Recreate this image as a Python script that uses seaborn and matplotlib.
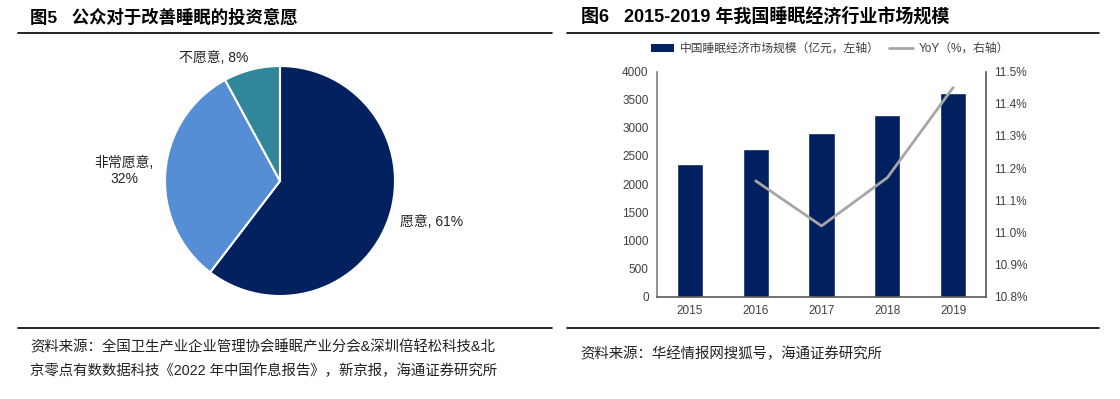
import matplotlib
matplotlib.use("Agg")
import matplotlib.pyplot as plt
from matplotlib.lines import Line2D
from matplotlib.patches import Patch
import seaborn as sns
import pandas as pd

# pie: investment willingness
pie_names = ["愿意", "非常愿意", "不愿意"]
pie_values = [61, 32, 8]
pie_colors = ["#03215E", "#568ED6", "#31869B"]

# bars + line: sleep economy market size
years = ["2015", "2016", "2017", "2018", "2019"]
market_size = [2358, 2620, 2915, 3235, 3610]
yoy_years = ["2016", "2017", "2018", "2019"]
yoy_values = [11.16, 11.02, 11.17, 11.45]
left_ticks = [0, 500, 1000, 1500, 2000, 2500, 3000, 3500, 4000]
right_ticks = [10.8, 10.9, 11.0, 11.1, 11.2, 11.3, 11.4, 11.5]

sns.set_style("white")
plt.rcParams["font.family"] = ["Liberation Sans", "Noto Sans CJK SC", "DejaVu Sans"]

W, H = 1120, 399
fig = plt.figure(figsize=(W / 100, H / 100), dpi=100)


def box(x0, y0, x1, y1):
    # pixel box (top-left origin) -> figure fraction
    return [x0 / W, 1 - y1 / H, (x1 - x0) / W, (y1 - y0) / H]


def fy(y):
    return 1 - y / H


# titles and rules
fig.text(30 / W, fy(17), "图5   公众对于改善睡眠的投资意愿", fontsize=12.5, fontweight="bold",
         va="center", ha="left", color="black")
fig.text(581 / W, fy(16), "图6   2015-2019 年我国睡眠经济行业市场规模", fontsize=13,
         fontweight="bold", va="center", ha="left", color="black")
for x0, x1 in [(18, 552), (567, 1099)]:
    for y in (33, 328):
        fig.add_artist(Line2D([x0 / W, x1 / W], [fy(y), fy(y)], color="black", lw=1.2))

fig.text(30 / W, fy(347), "资料来源：全国卫生产业企业管理协会睡眠产业分会&深圳倍轻松科技&北",
         fontsize=10.4, va="center", ha="left", color="#222222")
fig.text(30 / W, fy(371), "京零点有数数据科技《2022 年中国作息报告》，新京报，海通证券研究所",
         fontsize=10.4, va="center", ha="left", color="#222222")
fig.text(580 / W, fy(354), "资料来源：华经情报网搜狐号，海通证券研究所",
         fontsize=10.4, va="center", ha="left", color="#222222")

# ---- pie ----
ax_pie = fig.add_axes(box(165, 66, 395, 296))
labels = []
for n, v in zip(pie_names, pie_values):
    sep = "\n" if len(n) > 3 else " "
    labels.append(f"{n},{sep}{v}%")
wedges, texts = ax_pie.pie(pie_values, labels=labels, colors=pie_colors, startangle=90,
                           counterclock=False, labeldistance=1.1,
                           wedgeprops=dict(edgecolor="white", linewidth=1.5),
                           textprops=dict(fontsize=10, color="#222222"))
for t in texts:
    t.set_multialignment("center")
ax_pie.set_xlim(-1, 1)
ax_pie.set_ylim(-1, 1)
ax_pie.set_aspect("equal")
ax_pie.axis("off")

# ---- bars ----
ax = fig.add_axes(box(657, 71.5, 986, 296.7))
df = pd.DataFrame({"year": years, "size": market_size})
sns.barplot(data=df, x="year", y="size", color="#002060", width=0.4, ax=ax,
            saturation=1)
ax.set_xlim(-0.5, len(years) - 0.5)
ax.set_ylim(0, 4000)
ax.set_yticks(left_ticks)
ax.set_xlabel("")
ax.set_ylabel("")
ax.tick_params(axis="both", length=0, labelsize=8.5, labelcolor="#404040", pad=6)
for s in ["top", "right"]:
    ax.spines[s].set_visible(False)
ax.spines["left"].set_color("#808080")
ax.spines["bottom"].set_color("#595959")
ax.spines["left"].set_linewidth(1.2)
ax.spines["bottom"].set_linewidth(1.2)

ax2 = ax.twinx()
yoy_pos = [years.index(y) for y in yoy_years]
sns.lineplot(x=yoy_pos, y=yoy_values, color="#A6A6A6", linewidth=2, ax=ax2)
ax2.set_ylim(10.8, 11.5)
ax2.set_yticks(right_ticks)
ax2.set_yticklabels([f"{t:.1f}%" for t in right_ticks])
ax2.tick_params(axis="y", length=0, labelsize=8.5, labelcolor="#404040", pad=6)
for s in ["top", "left", "bottom"]:
    ax2.spines[s].set_visible(False)
ax2.spines["right"].set_color("#595959")
ax2.spines["right"].set_linewidth(1.2)
ax.set_xlim(-0.5, len(years) - 0.5)

handles = [Patch(facecolor="#002060", edgecolor="none"),
           Line2D([0], [0], color="#A6A6A6", lw=2)]
fig.legend(handles, ["中国睡眠经济市场规模（亿元，左轴）", "YoY（%，右轴）"],
           loc="center", bbox_to_anchor=(830 / W, fy(49)), ncol=2, frameon=False,
           fontsize=8.5, handlelength=2.0, handleheight=0.6, columnspacing=0.8,
           handletextpad=0.5, labelcolor="#404040")

fig.savefig("out.png", dpi=100)
